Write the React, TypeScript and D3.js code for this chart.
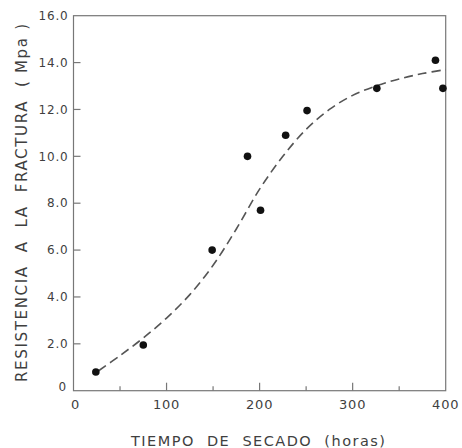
import React from "react";
import * as d3 from "d3";

const pointX = [24, 75, 149, 187, 201, 228, 251, 326, 389, 397];
const pointY = [0.8, 1.95, 6.0, 10.0, 7.7, 10.9, 11.95, 12.9, 14.1, 12.9];

const curveX = [27, 50, 75, 100, 125, 150, 175, 200, 225, 250, 275, 300, 325, 350, 375, 400];
const curveY = [0.85, 1.5, 2.25, 3.1, 4.1, 5.35, 6.9, 8.6, 10.0, 11.15, 12.0, 12.6, 13.0, 13.3, 13.53, 13.7];

const yTicks = [0, 2, 4, 6, 8, 10, 12, 14, 16];
const yTickLabels = ["0", "2.0", "4.0", "6.0", "8.0", "10.0", "12.0", "14.0", "16.0"];
const xMajor = [0, 100, 200, 300, 400];
const xMajorLabels = ["0", "100", "200", "300", "400"];
const xMinor = [50, 150, 250, 350];

const xTitle = "TIEMPO  DE  SECADO  (horas)";
const yTitle = "RESISTENCIA  A  LA  FRACTURA  ( Mpa )";

const W = 462;
const H = 448;
const L = 73.5;
const R = 445.7;
const T = 15.7;
const B = 390.7;
const FONT = "'DejaVu Sans', sans-serif";
const INK = "#3f3f3f";

export default function App() {
  const x = d3.scaleLinear().domain([0, 400]).range([L, R]);
  const y = d3.scaleLinear().domain([0, 16]).range([B, T]);
  const line = d3
    .line<number>()
    .x((_, i) => x(curveX[i]))
    .y((d) => y(d))
    .curve(d3.curveCatmullRom.alpha(0.5));
  const path = line(curveY) || "";

  return (
    <svg
      width={W}
      height={H}
      style={{ position: "absolute", left: 0, top: 0, background: "#fff" }}
    >
      <rect x={L} y={T} width={R - L} height={B - T} fill="none" stroke="#777" strokeWidth={1.2} />
      {yTicks.filter((v) => v > 0 && v < 16).map((v) => (
        <line key={"yt" + v} x1={L} x2={L + 7} y1={y(v)} y2={y(v)} stroke="#777" strokeWidth={1.2} />
      ))}
      {xMajor.filter((v) => v > 0 && v < 400).map((v) => (
        <line key={"xt" + v} x1={x(v)} x2={x(v)} y1={B} y2={B - 8} stroke="#777" strokeWidth={1.2} />
      ))}
      {xMinor.map((v) => (
        <line key={"xm" + v} x1={x(v)} x2={x(v)} y1={B} y2={B - 4.5} stroke="#777" strokeWidth={1.2} />
      ))}
      {yTicks.map((v, i) => (
        <text
          key={"yl" + v}
          x={v === 0 ? 67 : 68.5}
          y={v === 0 ? y(v) - 3.5 : y(v)}
          dy="0.35em"
          textAnchor="end"
          fontFamily={FONT}
          fontSize={12}
          letterSpacing={0.8}
          fill={INK}
        >
          {yTickLabels[i]}
        </text>
      ))}
      {xMajor.map((v, i) => (
        <text
          key={"xl" + v}
          x={v === 0 ? x(v) + 2 : x(v)}
          y={408.5}
          textAnchor="middle"
          fontFamily={FONT}
          fontSize={13}
          letterSpacing={0.8}
          fill={INK}
        >
          {xMajorLabels[i]}
        </text>
      ))}
      <text
        x={131}
        y={446}
        fontFamily={FONT}
        fontSize={14.5}
        fill={INK}
        textLength={254}
        lengthAdjust="spacing"
        style={{ whiteSpace: "pre" }}
      >
        {xTitle}
      </text>
      <text
        transform={`translate(27,382) rotate(-90)`}
        x={0}
        y={0}
        fontFamily={FONT}
        fontSize={15}
        fill={INK}
        textLength={358}
        lengthAdjust="spacing"
        style={{ whiteSpace: "pre" }}
      >
        {yTitle}
      </text>
      <path d={path} fill="none" stroke="#555" strokeWidth={1.6} strokeDasharray="9,5" />
      {pointX.map((px, i) => (
        <circle key={"p" + i} cx={x(px)} cy={y(pointY[i])} r={3.8} fill="#111" />
      ))}
    </svg>
  );
}
